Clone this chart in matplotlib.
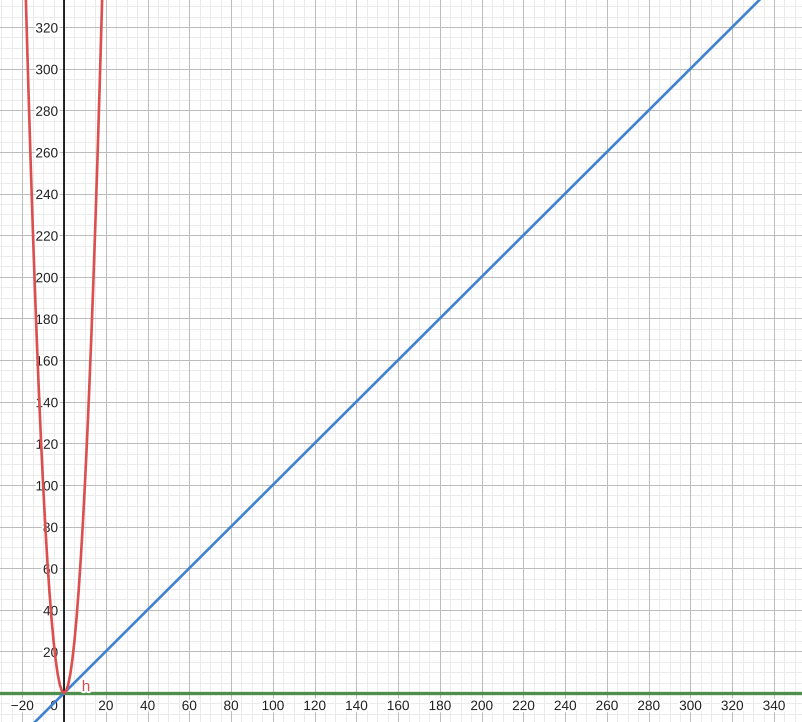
import matplotlib
matplotlib.use('Agg')
import matplotlib.pyplot as plt
import matplotlib.patheffects as pe

plt.rcParams['font.family'] = ['Liberation Sans', 'DejaVu Sans']

# red curve h, sampled at whole x values
curve_x = [-19, -18, -17, -16, -15, -14, -13, -12, -11, -10, -9, -8, -7, -6, -5, -4, -3, -2, -1, 0,
           1, 2, 3, 4, 5, 6, 7, 8, 9, 10, 11, 12, 13, 14, 15, 16, 17, 18, 19]
curve_y = [361, 324, 289, 256, 225, 196, 169, 144, 121, 100, 81, 64, 49, 36, 25, 16, 9, 4, 1, 0,
           1, 4, 9, 16, 25, 36, 49, 64, 81, 100, 121, 144, 169, 196, 225, 256, 289, 324, 361]
# blue line
line_x = [-40, 380]
line_y = [-40, 380]
# green horizontal line
flat_x = [-40, 380]
flat_y = [0, 0]

x_ticks = [-20, 20, 40, 60, 80, 100, 120, 140, 160, 180, 200, 220, 240, 260, 280, 300, 320, 340]
y_ticks = [20, 40, 60, 80, 100, 120, 140, 160, 180, 200, 220, 240, 260, 280, 300, 320]

fig = plt.figure(figsize=(8.03, 7.22), dpi=100)
ax = fig.add_axes([0, 0, 1, 1])
ax.set_xlim(-30.65, 353.9)
ax.set_ylim(-13.9, 333.0)
ax.set_axis_off()

# grid, 1px lines
for v in range(-30, 360, 5):
    major = v % 20 == 0
    ax.axvline(v, color='#bcbcbc' if major else '#ebebeb', lw=0.72, zorder=1 if major else 0)
for v in range(-10, 340, 5):
    major = v % 20 == 0
    ax.axhline(v, color='#bcbcbc' if major else '#ebebeb', lw=0.72, zorder=1 if major else 0)
ax.axvline(0, color='black', lw=1.2, zorder=2)
ax.axhline(0, color='black', lw=1.2, zorder=2)

halo = [pe.withStroke(linewidth=3, foreground='white')]
for t in x_ticks:
    lab = str(t).replace('-', '\u2212')
    ax.annotate(lab, (t, 0), xytext=(0, -13), textcoords='offset pixels',
                ha='center', va='center', fontsize=9.8, color='#222222',
                path_effects=halo, zorder=3)
ax.annotate('0', (0, 0), xytext=(-10, -13), textcoords='offset pixels',
            ha='center', va='center', fontsize=9.8, color='#222222',
            path_effects=halo, zorder=3)
for t in y_ticks:
    ax.annotate(str(t), (0, t), xytext=(-6, -1.5), textcoords='offset pixels',
                ha='right', va='center', fontsize=9.8, color='#222222',
                path_effects=halo, zorder=3)

ax.plot(flat_x, flat_y, color='#4e8f4c', lw=2.4, zorder=4, solid_capstyle='butt')
ax.plot(line_x, line_y, color='#3f82d0', lw=1.9, zorder=5)
ax.plot(curve_x, curve_y, color='#dc4f4f', lw=1.9, zorder=6)
ax.annotate('h', (0, 0), xytext=(22, 6), textcoords='offset pixels',
            ha='center', va='center', fontsize=11, color='#dc4f4f',
            path_effects=halo, zorder=7)

fig.savefig('out.png', dpi=100)
